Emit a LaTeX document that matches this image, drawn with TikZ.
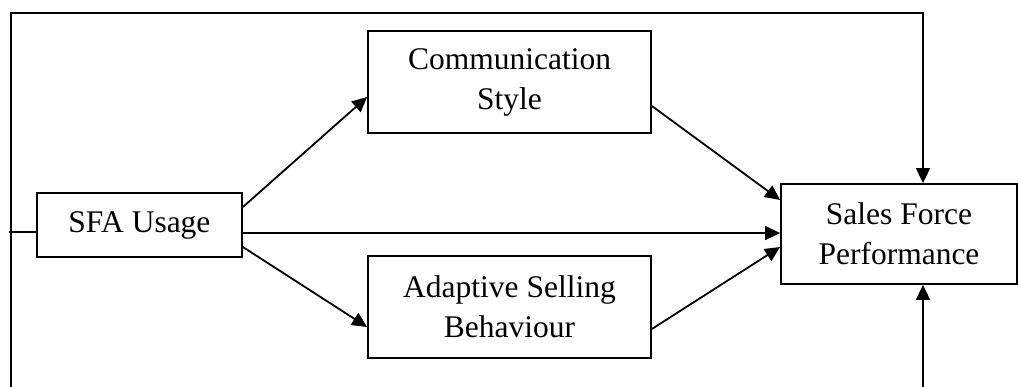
\documentclass[tikz,border=0pt]{standalone}
\usepackage{fontspec}
\setmainfont{Liberation Serif}
\usetikzlibrary{arrows.meta}
\begin{document}
\begin{tikzpicture}[x=1pt,y=1pt,
  line width=1.8pt,
  box/.style={draw, line width=1.8pt, rectangle, inner sep=0pt, align=center,
    font=\fontsize{31.5}{40}\selectfont},
  arr/.style={-{Triangle[length=15pt,width=14pt]}, line join=miter}]
\useasboundingbox (0,0) rectangle (1018,-386);
\node[box, minimum width=205pt, minimum height=64pt] (sfa) at (139.5,-225) {SFA Usage};
\node[box, minimum width=283pt, minimum height=102pt] (comm) at (509.5,-82) {Communication\\Style};
\node[box, minimum width=283pt, minimum height=102pt] (adapt) at (509.5,-307) {Adaptive Selling\\Behaviour};
\node[box, minimum width=236pt, minimum height=100pt] (sales) at (899,-234) {Sales Force\\Performance};
\coordinate (bl) at (11,-390);
\coordinate (tl) at (11,-13);
\coordinate (tr) at (923,-13);
\coordinate (br) at (923,-390);
\coordinate (stub) at (9,-232);
\draw[arr] ([yshift=18]sfa.east) -- ([yshift=-15]comm.west);
\draw[arr] ([yshift=-22]sfa.east) -- ([yshift=-20]adapt.west);
\draw[arr] ([yshift=-8]sfa.east) -- ([yshift=-8]sfa.east -| sales.west);
\draw[arr] ([yshift=-24]comm.east) -- ([yshift=34]sales.west);
\draw[arr] ([yshift=-22]adapt.east) -- ([yshift=-13]sales.west);
\draw[arr] (bl) -- (tl) -- (tr) -- (tr |- sales.north);
\draw (stub) -- (stub -| sfa.west);
\draw[arr] (br) -- (br |- sales.south);
\end{tikzpicture}
\end{document}
